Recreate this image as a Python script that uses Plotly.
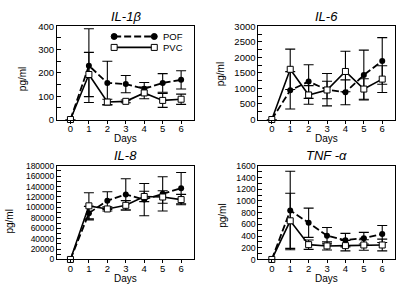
import plotly.graph_objects as go

# ---------------- data ----------------
days = [0, 1, 2, 3, 4, 5, 6]
day_labels = ["0", "1", "2", "3", "4", "5", "6"]
series_names = ["POF", "PVC"]
panel_titles = ["IL-1β", "IL-6", "IL-8", "TNF -α"]
x_title = "Days"
y_title = "pg/ml"

il1b_pof = [0, 231, 157, 152, 132, 157, 170]
il1b_pof_err = [0, 158, 93, 37, 27, 40, 39]
il1b_pvc = [0, 193, 75, 78, 114, 82, 87]
il1b_pvc_err = [0, 95, 12, 6, 25, 30, 22]

il6_pof = [0, 940, 1220, 960, 875, 1430, 1885]
il6_pof_err = [0, 600, 540, 520, 400, 800, 750]
il6_pvc = [0, 1615, 790, 950, 1545, 980, 1300]
il6_pvc_err = [0, 650, 300, 280, 650, 330, 430]

il8_pof = [0, 89000, 113000, 125000, 115000, 126000, 137000]
il8_pof_err = [0, 13000, 17000, 30000, 31000, 33000, 30000]
il8_pvc = [0, 103000, 97000, 104000, 121000, 120000, 115000]
il8_pvc_err = [0, 25000, 4000, 9000, 10000, 12000, 10000]

tnf_pof = [0, 836, 627, 407, 330, 363, 434]
tnf_pof_err = [0, 670, 250, 140, 115, 100, 145]
tnf_pvc = [0, 660, 253, 231, 236, 247, 247]
tnf_pvc_err = [0, 470, 80, 70, 90, 90, 100]

y_max = [400, 3000, 180000, 1600]
y_step = [100, 500, 20000, 200]

# ---------------- layout helpers ----------------
FONT = "Liberation Sans, Arial, Helvetica, sans-serif"
col_dom = [[0.1407, 0.480], [0.638, 0.9765]]
row_dom = [[0.596, 0.928], [0.098, 0.4315]]
tick_font = [9.5, 9.5, 8.5, 8.7]
ytitle_pos = [(22 / 405, 1 - 76 / 292), (220 / 405, 1 - 71 / 292),
              (10 / 405, 1 - 224 / 292), (223 / 405, 1 - 218 / 292)]

pof_sets = [(il1b_pof, il1b_pof_err), (il6_pof, il6_pof_err), (il8_pof, il8_pof_err), (tnf_pof, tnf_pof_err)]
pvc_sets = [(il1b_pvc, il1b_pvc_err), (il6_pvc, il6_pvc_err), (il8_pvc, il8_pvc_err), (tnf_pvc, tnf_pvc_err)]

fig = go.Figure()
layout = dict(
    width=405, height=292,
    margin=dict(l=0, r=0, t=0, b=0),
    paper_bgcolor="white", plot_bgcolor="white",
    showlegend=False,
    font=dict(family=FONT, color="black"),
    annotations=[], shapes=[],
)

for i in range(4):
    sfx = "" if i == 0 else str(i + 1)
    xa, ya = "x" + sfx, "y" + sfx
    r, c = divmod(i, 2)
    pof, pof_e = pof_sets[i]
    pvc, pvc_e = pvc_sets[i]

    fig.add_trace(go.Scatter(
        x=days, y=pof, name=series_names[0], mode="lines+markers",
        line=dict(color="black", width=1.8, dash="7px,3px"),
        marker=dict(symbol="circle", size=6, color="black"),
        error_y=dict(type="data", array=pof_e, visible=True, color="black", thickness=1.1, width=5),
        xaxis=xa, yaxis=ya, cliponaxis=False,
    ))
    fig.add_trace(go.Scatter(
        x=days, y=pvc, name=series_names[1], mode="lines+markers",
        line=dict(color="black", width=1.6),
        marker=dict(symbol="square", size=6, color="white", line=dict(color="black", width=1)),
        error_y=dict(type="data", array=pvc_e, visible=True, color="black", thickness=1.1, width=5),
        xaxis=xa, yaxis=ya, cliponaxis=False,
    ))

    layout["xaxis" + sfx] = dict(
        domain=col_dom[c], anchor=ya, range=[-0.73, 6.72],
        tickmode="array", tickvals=days, ticktext=day_labels,
        ticks="outside", ticklen=3, tickwidth=1, tickcolor="black",
        ticklabelstandoff=-3,
        showline=True, linecolor="black", linewidth=1, mirror=True,
        showgrid=False, zeroline=False,
        tickfont=dict(size=9.5, family=FONT),
    )
    layout["yaxis" + sfx] = dict(
        domain=row_dom[r], anchor=xa, range=[0, y_max[i]],
        tick0=0, dtick=y_step[i], tickformat="d", exponentformat="none",
        ticks="inside", ticklen=4, tickwidth=1, tickcolor="black",
        minor=dict(dtick=y_step[i] / 2, ticks="inside", ticklen=4, tickcolor="black", showgrid=False),
        showline=True, linecolor="black", linewidth=1, mirror=True,
        showgrid=False, zeroline=False,
        tickfont=dict(size=tick_font[i], family=FONT),
    )
    # panel title
    layout["annotations"].append(dict(
        text=panel_titles[i], xref=xa + " domain", yref=ya + " domain",
        x=0.5, y=1, xanchor="center", yanchor="middle", yshift=10, showarrow=False,
        font=dict(size=13, family=FONT, style="italic"),
    ))
    # x axis title
    layout["annotations"].append(dict(
        text=x_title, xref=xa + " domain", yref=ya + " domain",
        x=0.5, y=0, xanchor="center", yanchor="middle", yshift=-19, showarrow=False,
        font=dict(size=10, family=FONT),
    ))
    # y axis title
    layout["annotations"].append(dict(
        text=y_title, xref="paper", yref="paper",
        x=ytitle_pos[i][0], y=ytitle_pos[i][1], xanchor="center", yanchor="middle",
        textangle=-90, showarrow=False,
        font=dict(size=10, family=FONT),
    ))

# custom legend (first panel)
leg_x0, leg_x1, leg_tx = 0.416, 0.708, 0.755
for j, (yy, nm) in enumerate([(0.89, series_names[0]), (0.773, series_names[1])]):
    layout["shapes"].append(dict(
        type="line", xref="x domain", yref="y domain", x0=leg_x0, x1=leg_x1, y0=yy, y1=yy,
        line=dict(color="black", width=1.8 if j == 0 else 1.6, dash="7px,3px" if j == 0 else "solid"),
        layer="above",
    ))
    for xx in (leg_x0, leg_x1):
        layout["shapes"].append(dict(
            type="circle" if j == 0 else "rect", xref="x domain", yref="y domain",
            xsizemode="pixel", ysizemode="pixel", xanchor=xx, yanchor=yy,
            x0=-3, x1=3, y0=-3, y1=3,
            fillcolor="black" if j == 0 else "white",
            line=dict(color="black", width=1), layer="above",
        ))
    layout["annotations"].append(dict(
        text=nm, xref="x domain", yref="y domain", x=leg_tx, y=yy,
        xanchor="left", yanchor="middle", showarrow=False,
        font=dict(size=9.5, family=FONT),
    ))

fig.update_layout(**layout)
fig.write_html(
    "out.html",
    config={"displayModeBar": False},
    post_script="document.body.style.margin='0';document.body.style.overflow='hidden';",
)
